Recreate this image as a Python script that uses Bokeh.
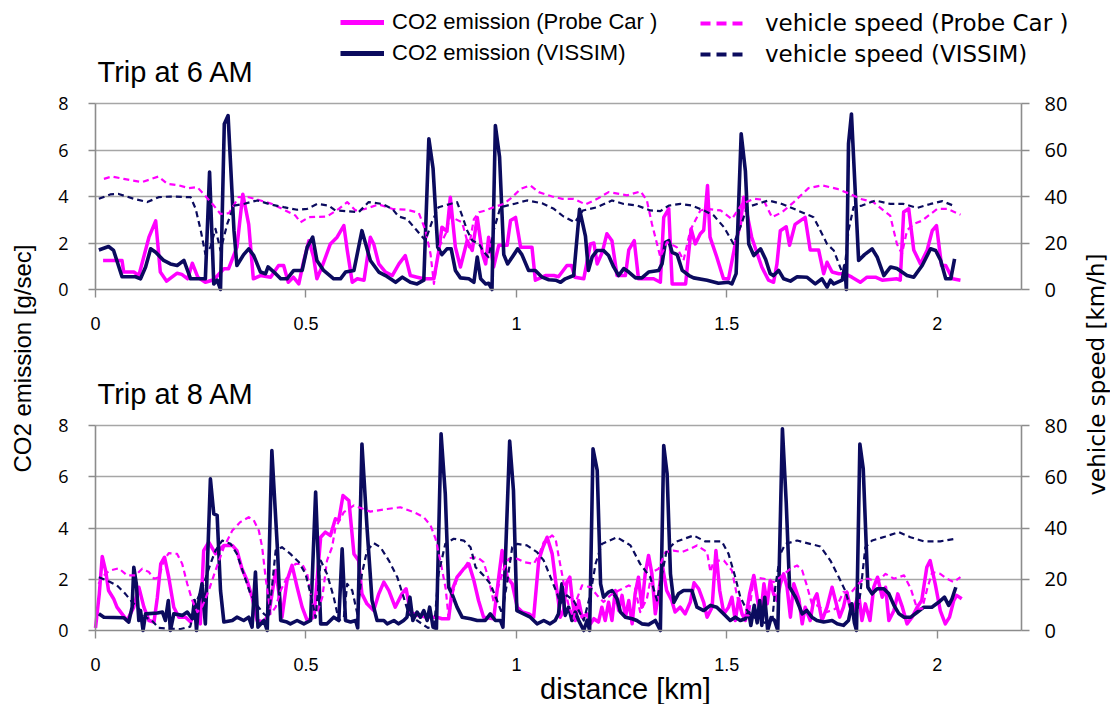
from bokeh.plotting import figure
from bokeh.models import (Range1d, LinearAxis, Grid, FixedTicker, NumeralTickFormatter,
                          Label, Legend, LegendItem)
from bokeh.core.properties import value
from bokeh.embed import file_html
from bokeh.resources import INLINE

# ---------------- data: Trip at 6 AM ----------------
t6_probe_co2_km = [0.018,0.063,0.067,0.091,0.103,0.127,0.143,0.154,0.169,0.194,0.205,0.219,0.23,0.243,0.261,0.281,0.305,0.316,0.336,0.35,0.364,0.375,0.392,0.416,0.435,0.447,0.458,0.47,0.483,0.495,0.507,0.518,0.526,0.538,0.558,0.574,0.59,0.598,0.61,0.622,0.638,0.653,0.661,0.673,0.689,0.705,0.721,0.736,0.748,0.764,0.78,0.804,0.815,0.823,0.835,0.843,0.855,0.867,0.883,0.895,0.907,0.919,0.927,0.934,0.946,0.958,0.978,0.986,0.998,1.01,1.037,1.045,1.069,1.089,1.1,1.12,1.131,1.139,1.16,1.176,1.184,1.192,1.204,1.215,1.227,1.239,1.259,1.267,1.28,1.29,1.31,1.326,1.342,1.35,1.362,1.37,1.402,1.406,1.415,1.425,1.437,1.445,1.454,1.46,1.476,1.492,1.504,1.52,1.532,1.54,1.559,1.571,1.583,1.599,1.611,1.619,1.627,1.641,1.649,1.662,1.686,1.698,1.718,1.73,1.738,1.75,1.766,1.781,1.797,1.817,1.833,1.853,1.869,1.904,1.912,1.92,1.932,1.944,1.96,1.976,1.988,1.998,2.01,2.02,2.036,2.055]
t6_probe_co2 = [1.25,1.25,0.75,0.75,0.6,2.25,2.95,0.75,0.36,0.7,0.65,0.46,1.13,0.53,0.31,0.42,0.89,0.89,1.82,4.1,2.8,0.46,0.6,0.53,1.03,1.03,0.31,0.53,0.24,1.25,2.1,1.4,0.46,0.97,1.96,2.25,2.75,1.7,0.31,0.46,0.4,2.25,1.96,1.1,0.75,0.6,1.1,1.46,0.6,0.53,0.46,0.46,1.6,2.68,2.5,3.97,1.82,0.97,2.1,1.68,3.1,1.56,1.1,2.25,0.97,1.9,1.9,2.97,3.1,1.82,1.82,0.4,0.6,0.6,0.55,1.03,1.03,0.53,0.46,1.96,2.0,1.1,1.6,2.4,2.1,0.6,0.6,1.7,2.1,0.46,0.46,0.46,0.31,3.1,3.47,0.24,0.24,0.97,2.6,1.96,2.4,2.55,4.47,2.25,1.4,0.46,0.46,1.96,2.8,3.97,2.25,1.6,0.97,0.4,0.31,1.1,2.53,2.7,1.9,2.8,3.1,1.7,1.7,0.68,1.17,0.75,0.68,0.68,0.53,0.31,0.53,0.53,0.4,0.46,0.4,3.33,3.47,1.7,1.1,1.7,2.53,2.75,1.03,1.03,0.46,0.4]

t6_vissim_co2_km = [0.008,0.031,0.043,0.063,0.095,0.107,0.119,0.131,0.143,0.162,0.178,0.194,0.21,0.226,0.261,0.271,0.281,0.289,0.297,0.306,0.315,0.329,0.336,0.352,0.364,0.376,0.392,0.404,0.41,0.424,0.44,0.455,0.471,0.491,0.503,0.516,0.526,0.542,0.566,0.582,0.594,0.614,0.633,0.653,0.673,0.689,0.713,0.729,0.748,0.764,0.78,0.792,0.802,0.813,0.823,0.835,0.845,0.855,0.867,0.887,0.899,0.907,0.915,0.927,0.934,0.942,0.95,0.96,0.97,0.979,0.994,1.003,1.013,1.029,1.045,1.061,1.077,1.093,1.105,1.116,1.136,1.15,1.164,1.171,1.18,1.192,1.207,1.219,1.231,1.243,1.255,1.267,1.283,1.298,1.314,1.338,1.346,1.354,1.362,1.37,1.382,1.394,1.41,1.421,1.453,1.48,1.504,1.512,1.522,1.534,1.544,1.552,1.564,1.58,1.592,1.603,1.611,1.623,1.635,1.651,1.667,1.69,1.71,1.726,1.738,1.746,1.754,1.774,1.78,1.784,1.789,1.796,1.813,1.827,1.845,1.857,1.873,1.889,1.904,1.928,1.944,1.964,1.984,1.996,2.008,2.02,2.032,2.041]
t6_vissim_co2 = [1.7,1.85,1.68,0.55,0.55,0.46,0.97,1.75,1.6,1.25,1.1,1.03,1.25,0.46,0.46,5.05,0.24,0.4,0.0,7.12,7.48,2.53,1.03,1.5,1.75,1.46,0.75,0.68,0.97,0.75,0.46,0.46,0.82,0.82,1.82,2.25,1.25,0.82,0.46,0.46,0.75,0.82,2.53,1.25,0.75,0.6,0.31,0.53,0.31,0.24,0.4,6.48,5.2,1.82,1.5,1.75,1.75,0.82,0.5,0.46,0.31,1.4,0.46,0.24,0.27,0.0,7.05,5.7,1.5,1.1,1.5,1.75,1.5,0.82,0.82,0.53,0.42,0.4,0.31,0.46,0.6,3.45,2.3,0.82,1.4,1.68,1.68,1.46,0.97,0.6,0.9,0.75,0.5,0.5,0.75,0.82,1.1,2.03,2.1,1.6,1.5,0.82,0.6,0.5,0.4,0.27,0.31,0.24,0.68,6.7,5.1,1.96,1.46,1.75,1.3,0.68,0.6,0.82,0.46,0.36,0.55,0.53,0.24,0.46,0.1,0.4,0.24,0.4,1.03,0.0,6.27,7.55,1.25,1.5,1.75,1.4,0.6,0.97,0.9,0.6,0.53,1.03,1.75,1.68,1.25,0.46,0.46,1.32]

t6_probe_speed_km = [0.02,0.039,0.067,0.087,0.111,0.127,0.15,0.17,0.198,0.222,0.242,0.262,0.281,0.297,0.317,0.34,0.364,0.392,0.42,0.451,0.475,0.487,0.507,0.55,0.578,0.598,0.618,0.641,0.673,0.705,0.74,0.768,0.784,0.796,0.804,0.816,0.832,0.843,0.855,0.871,0.887,0.899,0.911,0.927,0.946,0.97,0.99,1.01,1.033,1.053,1.085,1.109,1.136,1.164,1.192,1.219,1.263,1.295,1.31,1.322,1.342,1.358,1.381,1.397,1.413,1.437,1.453,1.485,1.512,1.536,1.564,1.587,1.607,1.631,1.659,1.694,1.726,1.762,1.793,1.817,1.848,1.872,1.888,1.904,1.916,1.928,1.944,1.964,1.984,2.0,2.024,2.055]
t6_probe_speed = [47.6,48.6,47.6,46.9,46.2,47.2,48.6,45.5,44.8,43.6,44.0,40.0,36.1,32.5,32.8,39.7,39.7,38.3,36.8,34.0,31.8,28.9,31.1,31.4,34.7,37.6,34.0,34.7,36.6,34.7,34.3,33.0,25.4,15.3,2.4,18.2,24.0,31.8,30.3,28.9,18.2,30.3,33.2,34.0,35.4,36.8,39.7,43.3,44.8,41.9,40.0,39.0,39.0,36.6,39.0,41.9,40.5,42.2,38.3,28.2,13.9,20.4,18.2,12.5,25.4,34.0,34.7,34.0,30.3,36.8,39.0,38.6,31.1,33.2,37.6,43.6,44.8,43.3,41.1,39.0,37.6,34.0,31.8,19.6,15.3,25.4,28.2,29.6,32.5,34.7,34.7,32.2]

t6_vissim_speed_km = [0.008,0.035,0.055,0.091,0.123,0.15,0.178,0.226,0.238,0.25,0.261,0.273,0.285,0.297,0.313,0.329,0.352,0.384,0.416,0.447,0.479,0.503,0.527,0.554,0.57,0.598,0.625,0.649,0.681,0.705,0.72,0.74,0.76,0.784,0.799,0.815,0.843,0.859,0.871,0.883,0.895,0.911,0.923,0.934,0.946,0.962,0.994,1.025,1.061,1.089,1.112,1.139,1.158,1.192,1.227,1.255,1.287,1.318,1.342,1.362,1.39,1.417,1.445,1.469,1.493,1.516,1.532,1.548,1.572,1.599,1.631,1.659,1.706,1.722,1.738,1.754,1.766,1.778,1.789,1.801,1.821,1.853,1.888,1.92,1.952,1.984,2.012,2.043]
t6_vissim_speed = [39.0,40.9,41.1,39.0,37.6,39.7,40.0,39.7,34.7,25.4,15.3,18.2,26.1,16.8,28.2,36.1,36.8,38.3,36.6,35.4,34.3,34.7,36.8,36.1,34.0,33.7,33.2,37.6,36.8,34.7,31.4,30.3,26.1,21.1,28.9,35.4,36.8,37.6,31.8,25.4,21.1,19.6,16.0,13.9,25.4,35.4,36.8,38.3,37.1,34.7,31.4,28.9,34.0,35.4,38.3,36.8,36.1,34.0,33.7,36.1,36.8,36.1,34.0,31.8,26.8,19.6,26.8,35.4,36.8,38.3,36.8,34.7,31.1,25.4,19.6,16.8,11.1,5.4,25.4,35.4,36.1,38.3,36.8,36.8,35.1,36.8,38.0,35.7]

# ---------------- data: Trip at 8 AM ----------------
t8_probe_co2_km = [0.0,0.009,0.016,0.024,0.031,0.043,0.051,0.063,0.075,0.091,0.103,0.115,0.127,0.139,0.147,0.155,0.164,0.174,0.186,0.198,0.214,0.226,0.238,0.249,0.257,0.269,0.285,0.305,0.325,0.336,0.348,0.36,0.372,0.384,0.4,0.412,0.428,0.436,0.443,0.455,0.467,0.479,0.491,0.503,0.519,0.535,0.546,0.558,0.57,0.578,0.588,0.602,0.614,0.625,0.633,0.645,0.661,0.673,0.685,0.697,0.712,0.728,0.738,0.748,0.764,0.788,0.811,0.823,0.839,0.847,0.859,0.875,0.887,0.899,0.91,0.922,0.946,0.958,0.966,0.978,0.99,1.002,1.014,1.03,1.041,1.053,1.063,1.073,1.085,1.093,1.1,1.104,1.112,1.12,1.127,1.132,1.14,1.148,1.156,1.168,1.176,1.184,1.195,1.203,1.211,1.219,1.227,1.235,1.243,1.251,1.259,1.267,1.275,1.282,1.29,1.298,1.306,1.314,1.322,1.33,1.338,1.346,1.357,1.369,1.377,1.389,1.401,1.413,1.422,1.433,1.445,1.453,1.465,1.474,1.483,1.493,1.504,1.512,1.52,1.528,1.536,1.544,1.554,1.564,1.573,1.58,1.588,1.596,1.603,1.611,1.619,1.627,1.635,1.643,1.651,1.659,1.671,1.679,1.686,1.698,1.706,1.714,1.726,1.738,1.75,1.758,1.768,1.777,1.785,1.793,1.801,1.813,1.821,1.829,1.84,1.849,1.858,1.869,1.877,1.885,1.897,1.906,1.917,1.928,1.94,1.952,1.963,1.975,1.983,1.995,2.007,2.019,2.029,2.039,2.046,2.058]
t8_probe_co2 = [0.1,1.43,2.89,2.34,1.56,1.24,0.91,0.65,0.39,0.91,1.69,0.91,0.39,0.33,1.3,2.6,2.86,2.08,0.91,0.52,0.52,0.33,0.91,0.26,3.12,3.45,3.0,3.32,3.32,3.12,2.41,1.95,1.3,0.39,0.33,0.65,2.34,1.43,0.52,1.95,2.54,1.69,0.91,0.39,0.52,3.64,3.84,3.7,4.36,4.3,5.27,5.07,2.99,2.73,1.43,1.04,0.78,1.43,1.89,1.56,0.91,1.43,1.63,0.72,0.59,0.52,0.52,0.46,0.46,1.56,2.08,2.41,2.6,1.95,1.17,0.52,0.46,2.08,3.12,2.08,1.82,0.91,0.72,0.65,0.52,2.73,3.25,3.64,2.99,1.95,1.1,0.52,0.78,1.89,2.08,1.3,0.39,1.17,0.52,0.65,0.26,0.46,0.33,0.91,0.39,1.1,0.39,1.56,0.78,1.37,0.52,1.17,0.26,1.43,2.08,0.91,2.21,2.93,2.21,0.65,1.43,2.6,1.56,1.17,0.72,0.91,0.65,1.1,1.86,1.63,1.1,0.52,0.91,3.12,1.56,0.65,0.91,1.3,0.39,1.24,0.65,0.39,1.43,2.15,1.17,0.52,1.82,1.04,1.95,1.43,1.17,1.82,2.21,1.69,0.52,1.82,1.24,0.26,0.91,0.39,1.17,1.43,0.39,0.91,1.69,1.17,0.52,0.91,1.5,0.91,0.78,1.43,0.39,1.04,0.39,1.69,2.08,1.3,1.69,0.39,0.78,1.43,0.91,0.26,0.52,0.91,1.17,2.47,2.73,1.82,0.78,0.26,0.52,1.17,1.37,1.24]

t8_vissim_co2_km = [0.008,0.02,0.067,0.079,0.087,0.091,0.097,0.103,0.107,0.113,0.119,0.147,0.159,0.166,0.173,0.178,0.186,0.206,0.218,0.23,0.235,0.24,0.245,0.253,0.261,0.273,0.281,0.289,0.297,0.305,0.325,0.336,0.352,0.364,0.372,0.38,0.386,0.4,0.408,0.419,0.432,0.44,0.455,0.463,0.479,0.495,0.511,0.523,0.535,0.55,0.566,0.578,0.586,0.594,0.606,0.618,0.623,0.633,0.645,0.657,0.669,0.685,0.693,0.709,0.72,0.732,0.74,0.747,0.754,0.764,0.772,0.78,0.788,0.794,0.802,0.81,0.821,0.831,0.839,0.847,0.859,0.871,0.891,0.907,0.926,0.938,0.95,0.962,0.968,0.984,0.993,1.001,1.017,1.033,1.049,1.065,1.08,1.092,1.1,1.108,1.116,1.124,1.132,1.14,1.148,1.16,1.168,1.174,1.182,1.192,1.2,1.207,1.219,1.227,1.239,1.247,1.259,1.275,1.286,1.298,1.314,1.33,1.342,1.35,1.358,1.366,1.374,1.385,1.397,1.417,1.429,1.445,1.461,1.476,1.492,1.508,1.52,1.532,1.544,1.552,1.557,1.565,1.572,1.578,1.583,1.59,1.597,1.605,1.613,1.621,1.632,1.641,1.649,1.663,1.679,1.69,1.702,1.714,1.73,1.75,1.762,1.777,1.789,1.797,1.803,1.808,1.816,1.824,1.835,1.845,1.857,1.873,1.885,1.897,1.909,1.921,1.937,1.953,1.968,1.987,2.003,2.017,2.027,2.035,2.044]
t8_vissim_co2 = [0.65,0.52,0.5,0.33,0.91,2.47,1.82,0.39,0.78,0.0,0.65,0.68,0.72,0.39,1.17,0.0,0.65,0.59,0.72,0.46,1.17,0.0,1.1,1.82,0.26,5.92,4.55,4.49,1.56,0.33,0.39,0.52,0.39,0.52,0.13,2.28,0.13,0.39,0.0,7.02,3.25,0.39,0.33,0.26,0.39,0.26,0.39,5.4,0.26,0.26,0.52,0.39,3.19,0.39,0.33,0.39,0.1,7.28,4.03,1.17,0.39,0.39,0.26,0.39,0.26,0.39,0.52,1.3,0.39,0.72,0.52,0.78,0.39,0.91,0.13,0.07,7.68,5.33,1.69,1.43,0.91,0.52,0.46,0.39,0.39,0.65,0.39,0.39,0.13,7.39,5.46,0.78,0.65,0.52,0.26,0.39,0.26,0.39,0.65,1.82,0.59,0.91,0.39,0.72,0.39,0.0,0.4,0.0,7.09,6.25,1.82,1.3,1.5,1.56,1.24,0.72,0.52,0.46,0.39,0.26,0.23,0.39,0.0,7.22,6.12,2.21,1.1,1.43,1.56,1.56,0.91,0.78,0.98,0.91,0.65,0.39,0.52,0.39,0.46,0.72,0.2,0.98,0.3,1.17,0.2,1.3,0.0,0.5,0.4,0.0,7.87,5.0,1.69,1.3,0.65,0.78,0.52,0.39,0.33,0.39,0.26,0.2,0.39,1.04,0.3,0.0,7.28,6.31,1.69,1.43,1.63,1.63,1.43,0.98,0.65,0.52,0.52,0.72,0.91,0.91,1.1,1.3,0.98,1.24,1.69]

t8_probe_speed_km = [0.007,0.023,0.035,0.055,0.075,0.095,0.111,0.127,0.139,0.151,0.162,0.174,0.194,0.206,0.218,0.23,0.242,0.253,0.269,0.285,0.305,0.325,0.344,0.364,0.376,0.388,0.396,0.404,0.416,0.428,0.44,0.459,0.475,0.491,0.503,0.511,0.523,0.539,0.55,0.562,0.57,0.59,0.614,0.653,0.693,0.724,0.756,0.78,0.796,0.808,0.82,0.832,0.839,0.847,0.859,0.875,0.891,0.907,0.922,0.934,0.946,0.958,0.97,0.982,1.002,1.018,1.041,1.053,1.065,1.085,1.093,1.1,1.112,1.124,1.136,1.144,1.156,1.176,1.192,1.207,1.223,1.243,1.267,1.282,1.294,1.31,1.322,1.338,1.354,1.373,1.393,1.413,1.429,1.453,1.461,1.469,1.493,1.512,1.524,1.536,1.552,1.564,1.588,1.611,1.627,1.651,1.667,1.679,1.69,1.702,1.714,1.738,1.758,1.777,1.793,1.809,1.825,1.837,1.857,1.877,1.897,1.921,1.937,1.952,1.964,1.976,1.988,2.007,2.023,2.039,2.055]
t8_probe_speed = [18.2,22.1,23.4,24.3,21.5,21.5,24.1,22.8,20.2,20.8,27.3,30.2,29.9,26.0,18.2,11.7,7.2,9.1,15.6,23.4,32.5,39.0,42.3,44.2,43.0,39.0,32.5,20.8,6.5,9.1,15.6,22.1,26.0,26.0,22.1,14.3,5.2,13.0,27.3,32.5,40.0,46.2,48.8,46.4,47.4,48.1,46.2,44.2,41.0,35.8,26.7,16.3,4.6,13.7,20.2,24.1,28.3,28.6,26.7,20.2,11.1,17.6,24.1,28.0,28.0,26.7,26.0,29.3,34.5,37.1,35.8,29.3,18.9,9.8,4.6,12.4,17.6,16.9,13.7,11.1,13.7,15.6,17.6,16.3,7.2,12.4,22.8,24.1,30.6,31.2,30.6,31.9,33.2,30.6,22.8,27.3,27.3,23.4,13.7,5.9,5.9,20.8,20.2,18.9,20.8,24.1,25.4,23.4,17.6,10.4,9.8,7.2,8.5,15.0,14.3,17.6,20.2,20.2,18.9,22.1,20.2,21.5,16.3,8.5,8.5,16.3,22.8,22.1,20.2,18.9,20.8]

t8_vissim_speed_km = [0.008,0.028,0.051,0.071,0.087,0.103,0.119,0.134,0.15,0.2,0.225,0.241,0.257,0.273,0.285,0.301,0.321,0.336,0.352,0.368,0.384,0.4,0.412,0.428,0.443,0.463,0.483,0.499,0.511,0.523,0.535,0.55,0.566,0.578,0.59,0.598,0.61,0.622,0.633,0.645,0.661,0.677,0.697,0.717,0.732,0.744,0.764,0.79,0.805,0.815,0.831,0.851,0.875,0.891,0.903,0.922,0.938,0.954,0.966,0.978,0.99,1.002,1.025,1.049,1.065,1.081,1.097,1.104,1.12,1.136,1.148,1.16,1.176,1.188,1.203,1.239,1.271,1.294,1.318,1.334,1.346,1.357,1.377,1.421,1.448,1.488,1.504,1.52,1.532,1.548,1.564,1.59,1.608,1.615,1.627,1.639,1.667,1.722,1.746,1.766,1.781,1.793,1.805,1.817,1.829,1.845,1.877,1.908,1.936,1.968,2.007,2.043]
t8_vissim_speed = [20.8,19.5,17.6,14.3,11.1,8.5,5.2,3.9,1.0,0.5,1.5,11.7,18.2,26.0,31.2,35.1,33.8,29.9,22.1,14.3,9.8,6.5,5.0,31.2,32.5,29.9,26.7,22.1,14.3,5.0,27.3,22.1,13.0,3.9,5.0,18.2,15.6,6.5,22.1,31.2,34.1,32.5,27.3,20.8,13.0,6.5,3.9,1.0,2.0,22.1,33.8,35.8,35.1,32.5,24.7,21.5,18.2,11.7,6.5,18.9,32.5,33.8,33.2,30.6,27.3,20.8,14.3,10.4,13.7,11.7,7.8,3.9,14.3,26.0,33.8,36.4,33.2,26.0,20.8,11.7,22.1,31.2,34.5,37.1,34.8,34.8,29.9,20.8,13.0,7.8,5.2,3.0,4.0,16.9,29.9,33.8,35.1,32.8,27.3,20.8,15.6,9.1,3.9,14.3,32.5,35.1,36.7,38.4,36.4,34.8,34.8,35.8]

x_ticks = [0, 0.5, 1, 1.5, 2]
co2_ticks = [0, 2, 4, 6, 8]
speed_ticks = [0, 20, 40, 60, 80]
legend_labels = ["CO2 emission (Probe Car )", "CO2 emission (VISSIM)",
                 "vehicle speed (Probe Car )", "vehicle speed (VISSIM)"]
panel_titles = ["Trip at 6 AM", "Trip at 8 AM"]

# ---------------- layout geometry (page pixels; figure sits at page 0,0) ----------------
W, H = 1110, 704
OFF = 0
X0_PX, X1_PX = 95, 1021          # page x of 0 km and of 2.2 km
TOP_ZERO, TOP_MAX = 289, 103     # 6 AM panel: page y of 0 and of 8
BOT_ZERO, BOT_MAX = 630, 425     # 8 AM panel

def x_range_for(v0, v1, p0, p1):
    a = (p1 - p0) / (v1 - v0)          # px per unit
    start = v0 - (p0 - OFF) / a
    end = start + W / a
    return Range1d(start, end)

def y_range_for(vmax, p0, p1):
    a = (p0 - p1) / vmax                # px per unit (upwards)
    start = -(OFF + H - p0) / a
    end = start + H / a
    return Range1d(start, end)

MAGENTA = "#FF00FF"
NAVY = "#0B0B5E"
AXIS_GRAY = "#8c8c8c"
GRID_GRAY = "#a6a6a6"
FONT = "Liberation Sans"

p = figure(width=W, height=H, x_range=x_range_for(0, 2.2, X0_PX, X1_PX),
           y_range=y_range_for(8, BOT_ZERO, BOT_MAX),
           output_backend="svg", toolbar_location=None, title_location=None,
           min_border=0, min_border_left=0, min_border_right=0,
           min_border_top=0, min_border_bottom=0)
p.xaxis.visible = False
p.yaxis.visible = False
p.xgrid.visible = False
p.ygrid.visible = False
p.outline_line_color = None
p.background_fill_color = "white"

p.extra_y_ranges = {
    "co2_top": y_range_for(8, TOP_ZERO, TOP_MAX),
    "spd_top": y_range_for(80, TOP_ZERO, TOP_MAX),
    "co2_bot": y_range_for(8, BOT_ZERO, BOT_MAX),
    "spd_bot": y_range_for(80, BOT_ZERO, BOT_MAX),
}

# grids
for rn in ["co2_top", "co2_bot"]:
    g = Grid(dimension=1, ticker=FixedTicker(ticks=[2, 4, 6, 8]), y_range_name=rn,
             cross_bounds=(0, 2.2), grid_line_color=GRID_GRAY, grid_line_width=1.6)
    p.add_layout(g)

def axis_style(ax, size="17px", font=FONT):
    ax.axis_line_color = AXIS_GRAY
    ax.axis_line_width = 1.6
    ax.major_tick_line_color = AXIS_GRAY
    ax.major_tick_line_width = 1.4
    ax.major_tick_in = 0
    ax.major_tick_out = 7
    ax.minor_tick_out = 0
    ax.minor_tick_in = 0
    ax.major_label_text_font_size = size
    ax.major_label_text_font = font
    ax.major_label_text_color = "black"

for rn_c, rn_s in [("co2_top", "spd_top"), ("co2_bot", "spd_bot")]:
    la = LinearAxis(y_range_name=rn_c, fixed_location=0, bounds=(0, 8),
                    ticker=FixedTicker(ticks=co2_ticks))
    axis_style(la, "18px", "Open Sans")
    la.major_label_standoff = 20
    p.add_layout(la, "left")
    ra = LinearAxis(y_range_name=rn_s, fixed_location=2.2, bounds=(0, 80),
                    ticker=FixedTicker(ticks=speed_ticks))
    axis_style(ra, "20px", "Open Sans")
    ra.major_tick_out = 8
    ra.major_label_standoff = 15
    p.add_layout(ra, "right")
    xa = LinearAxis(y_range_name=rn_c, fixed_location=0, bounds=(0, 2.2),
                    ticker=FixedTicker(ticks=x_ticks),
                    formatter=NumeralTickFormatter(format="0.[0]"))
    axis_style(xa, "18px", FONT)
    xa.major_tick_out = 8
    xa.major_label_standoff = 19
    p.add_layout(xa, "below")

# series
def draw(km, vals, rn, color, width, dash):
    return p.line(km, vals, y_range_name=rn, line_color=color, line_width=width,
                  line_dash=dash, line_join="round")

draw(t6_probe_co2_km, t6_probe_co2, "co2_top", MAGENTA, 3.5, "solid")
draw(t6_vissim_co2_km, t6_vissim_co2, "co2_top", NAVY, 3.6, "solid")
draw(t6_probe_speed_km, t6_probe_speed, "spd_top", MAGENTA, 2.2, "6 4")
draw(t6_vissim_speed_km, t6_vissim_speed, "spd_top", NAVY, 2.2, "6 4")
draw(t8_probe_co2_km, t8_probe_co2, "co2_bot", MAGENTA, 3.5, "solid")
draw(t8_vissim_co2_km, t8_vissim_co2, "co2_bot", NAVY, 3.6, "solid")
draw(t8_probe_speed_km, t8_probe_speed, "spd_bot", MAGENTA, 2.2, "6 4")
draw(t8_vissim_speed_km, t8_vissim_speed, "spd_bot", NAVY, 2.2, "6 4")

# legend key renderers (a single NaN point: nothing drawn, they only style the legend samples)
NAN = [float("nan")]
k_pc = p.line(NAN, NAN, line_color=MAGENTA, line_width=5)
k_vc = p.line(NAN, NAN, line_color=NAVY, line_width=5)
k_ps = p.line(NAN, NAN, line_color=MAGENTA, line_width=4, line_dash="10 6")
k_vs = p.line(NAN, NAN, line_color=NAVY, line_width=4, line_dash="10 6")

# screen position helpers (screen units: from frame bottom-left, y up)
def sx(page_x):
    return page_x - OFF

def sy(page_y):
    return OFF + H - page_y

def make_legend(items, left, bottom, font, size, gw, standoff):
    lg = Legend(items=items, location=(sx(left), sy(bottom)), orientation="vertical",
                glyph_width=gw, glyph_height=20, label_standoff=standoff, spacing=5,
                padding=0, margin=0, border_line_color=None,
                background_fill_alpha=0, label_text_font=font,
                label_text_font_size=size, label_text_color="black")
    p.add_layout(lg)

make_legend([LegendItem(label=value(legend_labels[0]), renderers=[k_pc]),
             LegendItem(label=value(legend_labels[1]), renderers=[k_vc])],
            340, 66, FONT, "22px", 44, 8)
make_legend([LegendItem(label=value(legend_labels[2]), renderers=[k_ps]),
             LegendItem(label=value(legend_labels[3]), renderers=[k_vs])],
            700, 67, "DejaVu Sans", "23px", 48, 17)

def add_label(text, page_x, page_y, size, angle=0, align="left", baseline="middle", font=FONT):
    p.add_layout(Label(x=sx(page_x), y=sy(page_y), x_units="screen", y_units="screen",
                       text=text, text_font=font, text_font_size=size, angle=angle,
                       text_align=align, text_baseline=baseline, text_color="black"))

# page_y below is the vertical centre of each text
add_label(panel_titles[0], 97, 71, "29px")
add_label(panel_titles[1], 97, 393, "29px")
add_label("CO2 emission [g/sec]", 22, 358, "24px", angle=1.5708, align="center")
add_label("vehicle speed [km/h]", 1096, 374, "23px", angle=1.5708, align="center",
          font="DejaVu Sans")
add_label("distance [km]", 625, 688, "29px", align="center")

open("out.html", "w").write(file_html(p, INLINE))
